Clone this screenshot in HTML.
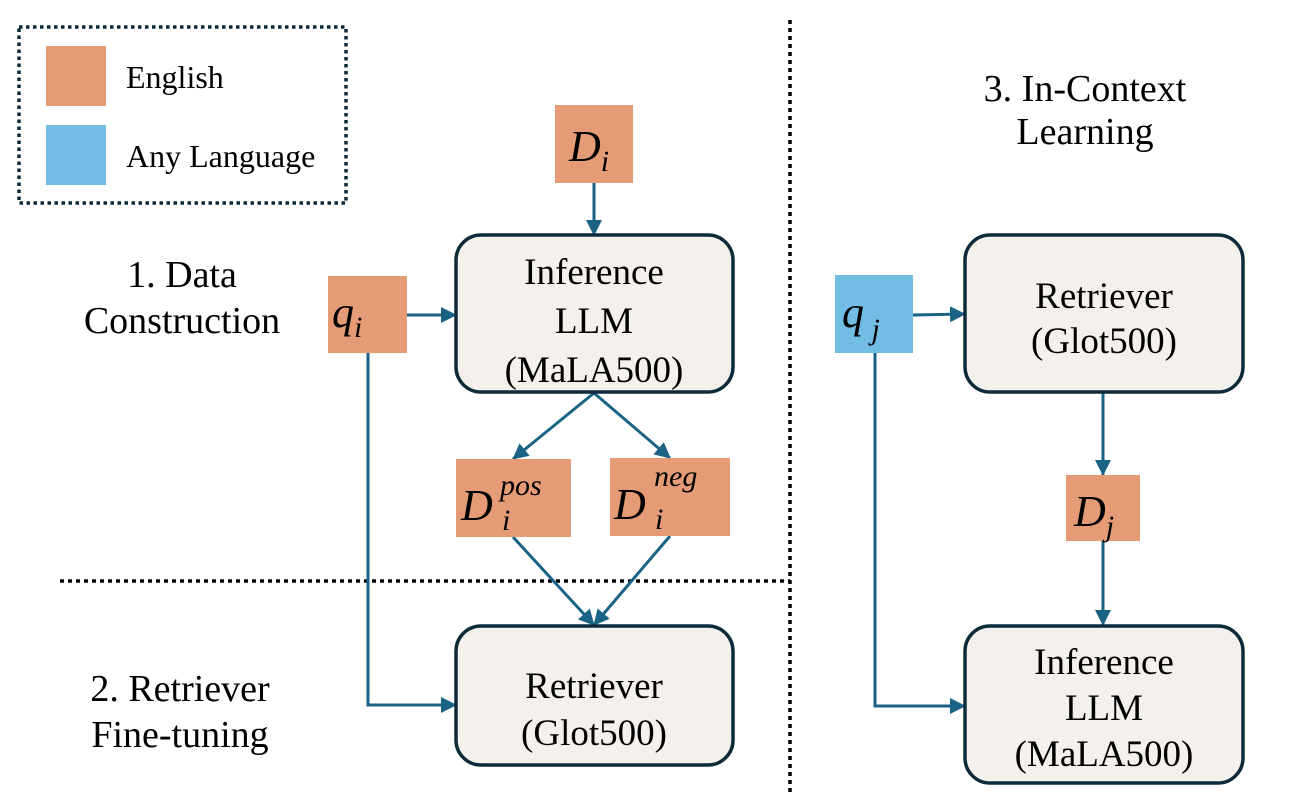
<!DOCTYPE html>
<html><head><meta charset="utf-8"><style>
html,body{margin:0;padding:0;background:#fff;}
svg{display:block;}
text{font-family:"Liberation Serif",serif;fill:#000;}
.m{font-style:italic;}
</style></head><body>
<svg width="1294" height="794" viewBox="0 0 1294 794" xmlns="http://www.w3.org/2000/svg">
<defs>
<marker id="b" markerWidth="16" markerHeight="16" refX="15" refY="8" orient="auto" markerUnits="userSpaceOnUse">
<path d="M0,0 L16,8 L0,16 z" fill="#1B6384"/>
</marker>
</defs>
<rect x="19" y="27" width="327" height="176" fill="none" stroke="#0D2A3A" stroke-width="3.5" stroke-dasharray="3.5,3.5"/>
<rect x="46" y="46" width="60" height="60" fill="#E59C76"/>
<rect x="46" y="125" width="60" height="60" fill="#72BDE4"/>
<text x="126" y="88" font-size="32">English</text>
<text x="126" y="167" font-size="32">Any Language</text>

<line x1="60" y1="581" x2="790" y2="581" stroke="#000" stroke-width="3.5" stroke-dasharray="4,4"/>
<line x1="790" y1="20" x2="790" y2="794" stroke="#000" stroke-width="3.5" stroke-dasharray="4,4"/>

<g font-size="38" text-anchor="middle">
<text x="182" y="287">1. Data</text>
<text x="182" y="333">Construction</text>
<text x="180" y="701">2. Retriever</text>
<text x="180" y="747">Fine-tuning</text>
<text x="1085" y="101">3. In-Context</text>
<text x="1085" y="144">Learning</text>
</g>

<g stroke="#1B6384" stroke-width="3" fill="none">
<line x1="594" y1="183" x2="594" y2="235" marker-end="url(#b)"/>
<line x1="407" y1="315" x2="456" y2="315" marker-end="url(#b)"/>
<line x1="594" y1="393" x2="513" y2="459" marker-end="url(#b)"/>
<line x1="594" y1="393" x2="670" y2="458" marker-end="url(#b)"/>
<line x1="513" y1="537" x2="594" y2="625" marker-end="url(#b)"/>
<line x1="670" y1="536" x2="594" y2="625" marker-end="url(#b)"/>
<polyline points="368,353 368,705 456,705" marker-end="url(#b)"/>
<line x1="913" y1="315" x2="965" y2="314" marker-end="url(#b)"/>
<line x1="1103" y1="393" x2="1103" y2="475" marker-end="url(#b)"/>
<line x1="1103" y1="541" x2="1103" y2="625" marker-end="url(#b)"/>
<polyline points="875,353 875,706 965,706" marker-end="url(#b)"/>
</g>

<g fill="#F4F0EB" stroke="#0D2A3A" stroke-width="3.5">
<rect x="456" y="235" width="277" height="157" rx="25"/>
<rect x="456" y="626" width="277" height="139" rx="25"/>
<rect x="965" y="235" width="278" height="157" rx="25"/>
<rect x="965" y="626" width="278" height="157" rx="25"/>
</g>
<g font-size="37" text-anchor="middle">
<text x="594" y="284">Inference</text>
<text x="594" y="333">LLM</text>
<text x="594" y="382">(MaLA500)</text>
<text x="594" y="698">Retriever</text>
<text x="594" y="745">(Glot500)</text>
<text x="1104" y="308">Retriever</text>
<text x="1104" y="353">(Glot500)</text>
<text x="1104" y="674">Inference</text>
<text x="1104" y="720">LLM</text>
<text x="1104" y="766">(MaLA500)</text>
</g>

<rect x="555" y="105" width="78" height="78" fill="#E59C76"/>
<text x="569" y="161" font-size="44" class="m">D<tspan font-size="30" dy="10">i</tspan></text>
<rect x="328" y="276" width="79" height="77" fill="#E59C76"/>
<text x="332" y="327" font-size="44" class="m">q<tspan font-size="30" dy="10">i</tspan></text>
<rect x="835" y="275" width="78" height="78" fill="#72BDE4"/>
<text x="842" y="327" font-size="44" class="m">q<tspan font-size="30" dy="12"> j</tspan></text>
<rect x="456" y="459" width="115" height="78" fill="#E59C76"/>
<text x="461" y="520" font-size="44" class="m">D</text>
<text x="500" y="495" font-size="30" class="m">pos</text>
<text x="502" y="530" font-size="30" class="m">i</text>
<rect x="610" y="458" width="120" height="78" fill="#E59C76"/>
<text x="614" y="519" font-size="44" class="m">D</text>
<text x="654" y="486" font-size="30" class="m">neg</text>
<text x="655" y="529" font-size="30" class="m">i</text>
<rect x="1066" y="475" width="74" height="66" fill="#E59C76"/>
<text x="1074" y="526" font-size="44" class="m">D<tspan font-size="30" dy="10">j</tspan></text>
</svg>
</body></html>
